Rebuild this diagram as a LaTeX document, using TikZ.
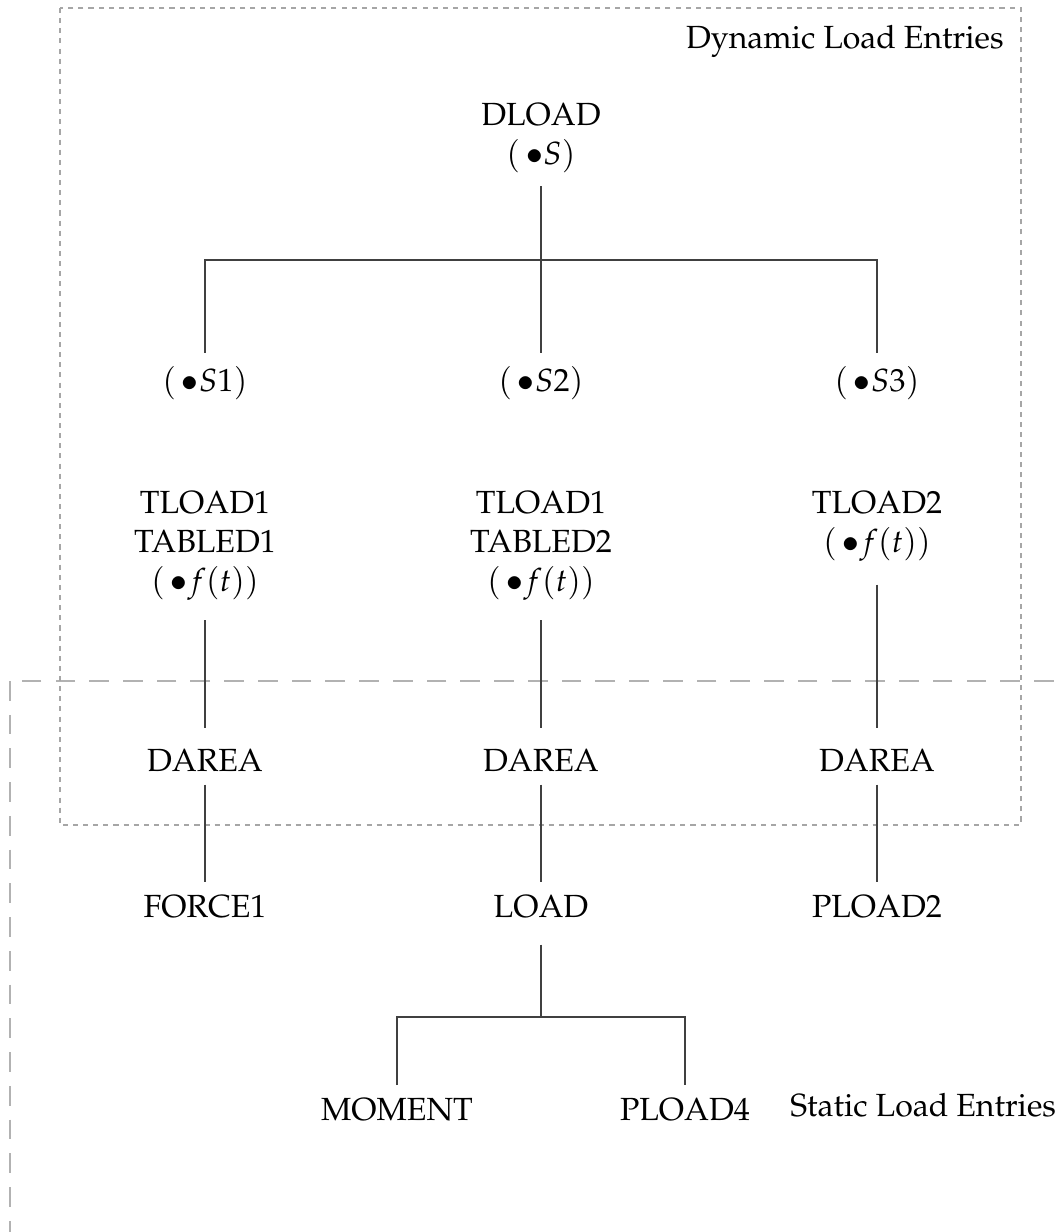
\documentclass[tikz,border=0pt]{standalone}
\usepackage[T1]{fontenc}
\usepackage{mathpazo}
\usepackage{tikz}
\usetikzlibrary{positioning}
\tikzstyle{entry} = [
    text centered,
    align=center,
    inner sep=0.16cm,
    font=\fontsize{11.4}{13.9}\selectfont
]
\tikzstyle{link} = [
    draw=black!75,
    line width=0.4pt
]
\tikzstyle{dynbox} = [
    draw=black!35,
    line width=0.4pt,
    dash pattern=on 1.8pt off 1.8pt
]
\tikzstyle{statbox} = [
    draw=black!30,
    line width=0.4pt,
    dash pattern=on 7pt off 5pt
]

\begin{document}
\begin{tikzpicture}[node distance=4.2cm]

\useasboundingbox (0,0) rectangle (13.2875,-15.4);

% Boxes
\draw [statbox] (0.125,-8.5125) rectangle (13.7,-15.8);
\draw [dynbox] (0.75,-0.1) rectangle (12.7625,-10.3125);

\node (dyntitle) [entry, anchor=north east, inner sep=0.21cm] at (12.7625,-0.1)
{Dynamic Load Entries};
\node (stattitle) [entry, anchor=south east, inner sep=0.08cm] at (13.2875,-14.05)
{Static Load Entries};

% Nodes
\node (dload) [entry] at (6.7625,-1.725) {DLOAD\\$(\,\bullet S)$};

\node (sb) [entry, below of=dload, node distance=3.0625cm] {$(\,\bullet S2)$};
\node (sa) [entry, left of=sb] {$(\,\bullet S1)$};
\node (sc) [entry, right of=sb] {$(\,\bullet S3)$};

\coordinate (bus) at ([yshift=-1.525cm]dload.center);

\node (tlb) [entry, below of=sb, node distance=2.0375cm]
{TLOAD1\\TABLED2\\$(\,\bullet f(t))$};
\node (tla) [entry, left of=tlb]
{TLOAD1\\TABLED1\\$(\,\bullet f(t))$};
\node (tlc) [entry, right of=tlb, yshift=0.244cm]
{TLOAD2\\$(\,\bullet f(t))$};

\node (darb) [entry, below of=tlb, node distance=2.675cm] {DAREA};
\node (dara) [entry, left of=darb] {DAREA};
\node (darc) [entry, right of=darb] {DAREA};

\node (load) [entry, below of=darb, node distance=1.8375cm] {LOAD};
\node (force) [entry, left of=load] {FORCE1};
\node (ploadb) [entry, right of=load] {PLOAD2};

\coordinate (loadbus) at ([yshift=-1.375cm]load.center);

\node (moment) [entry, below of=load, node distance=2.5375cm, xshift=-1.8cm] {MOMENT};
\node (ploadd) [entry, below of=load, node distance=2.5375cm, xshift=1.8cm] {PLOAD4};

% Links
\draw [link] (dload) -- (sb);
\draw [link] (sa.north) |- (bus) -| (sc.north);

\draw [link, shorten <=0.08cm, shorten >=0.09cm] (tla) -- (dara);
\draw [link, shorten <=0.08cm, shorten >=0.09cm] (tlb) -- (darb);
\draw [link, shorten <=0.12cm, shorten >=0.09cm] (tlc) -- (darc);

\draw [link] (dara) -- (force);
\draw [link] (darb) -- (load);
\draw [link] (darc) -- (ploadb);

\draw [link, shorten <=0.16cm] (load) -- (loadbus);
\draw [link] (moment.north) |- (loadbus) -| (ploadd.north);

\end{tikzpicture}
\end{document}
